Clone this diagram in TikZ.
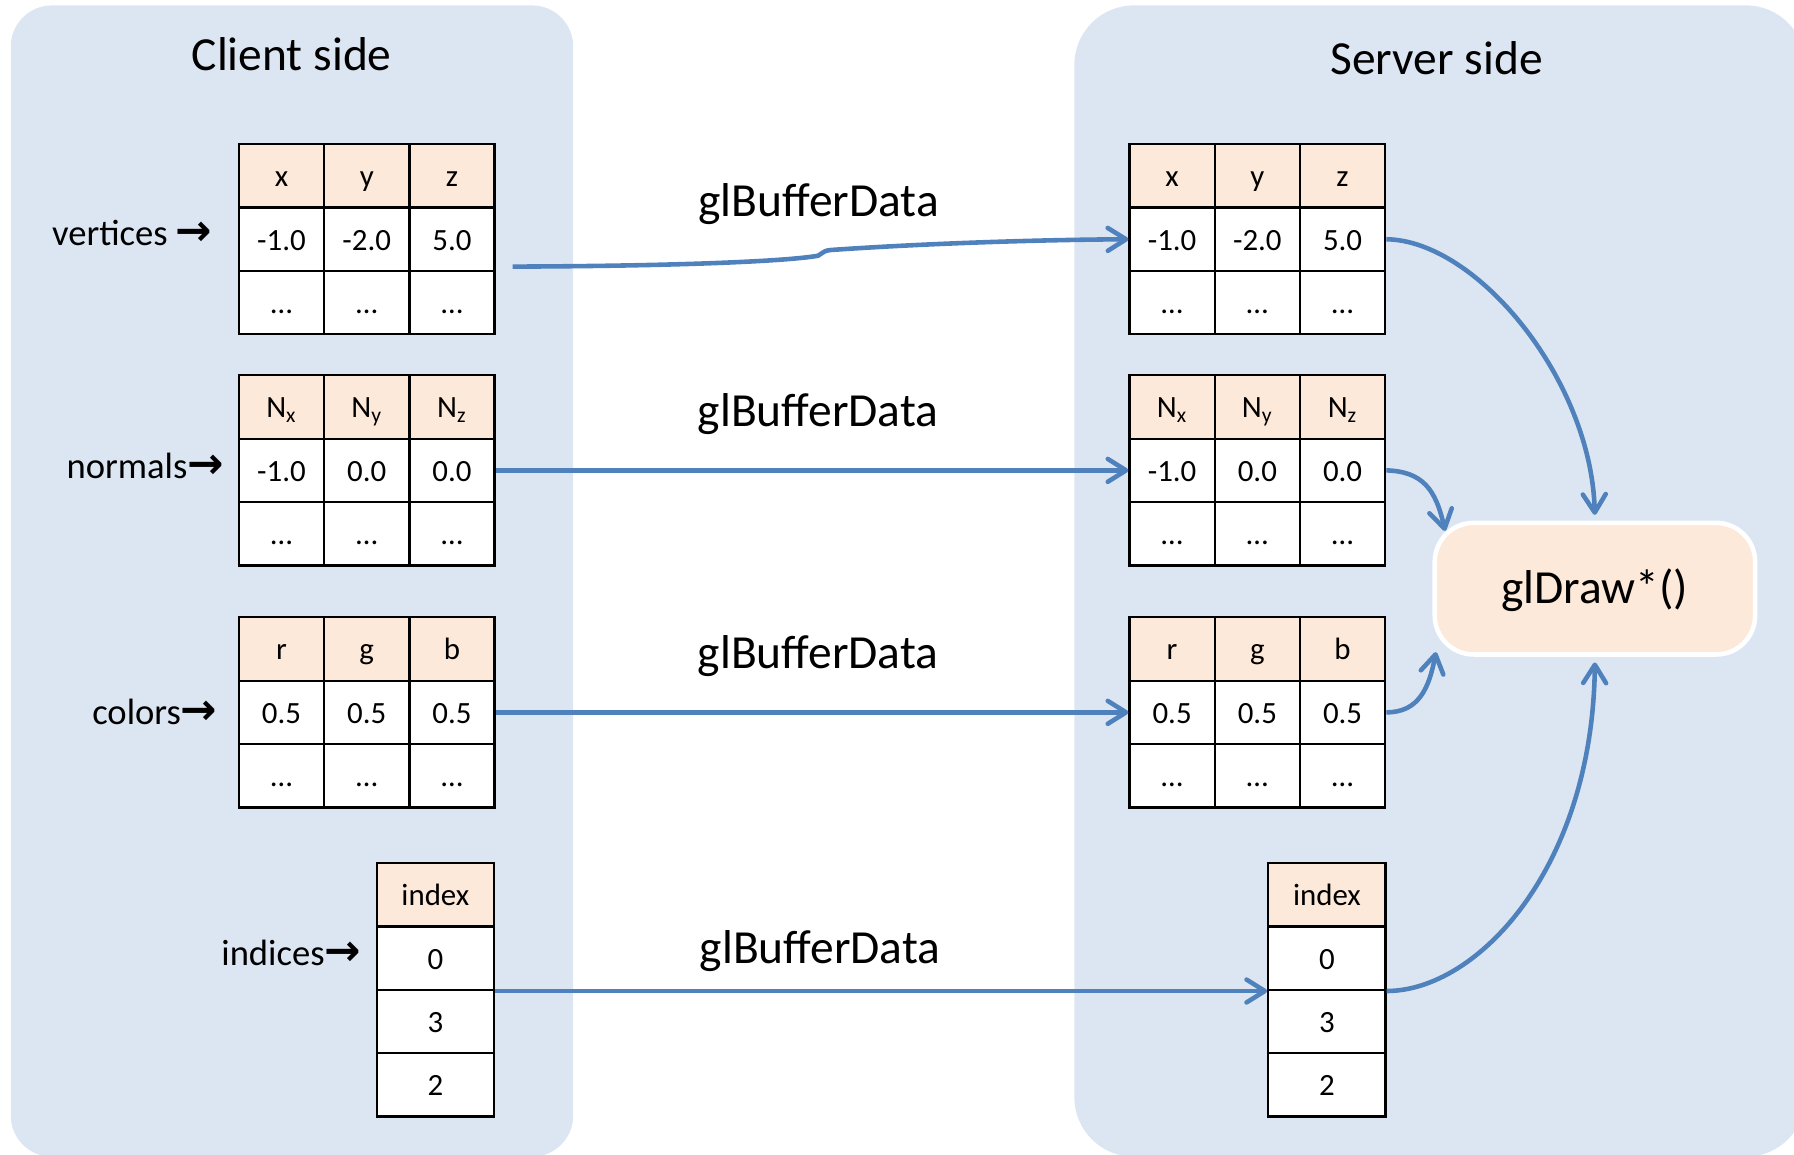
\documentclass[tikz,border=0pt]{standalone}
\usepackage{fontspec}
\setmainfont{Carlito}
\newfontfamily\arrowfont{DejaVu Sans}
\usetikzlibrary{arrows.meta,calc}
\definecolor{panelblue}{HTML}{DCE6F2}
\definecolor{peach}{HTML}{FDE9D9}
\definecolor{flowblue}{HTML}{4F81BD}
% heavier right arrow taken from DejaVu Sans
\newcommand\rarr{{\arrowfont\bfseries\fontsize{19}{19}\selectfont →}}
% three-column buffer table: name, left x, top y, header row, value row, last row
\newcommand\tabthree[6]{%
  \foreach \val [count=\col] in {#4}
    {\node[headcell] (#1-0-\col) at ({#2+(\col-0.5)*74.5},{#3+27.7}) {\val};}
  \foreach \val [count=\col] in {#5}
    {\node[bodycell] (#1-1-\col) at ({#2+(\col-0.5)*74.5},{#3+83.1}) {\val};}
  \foreach \val [count=\col] in {#6}
    {\node[bodycell] (#1-2-\col) at ({#2+(\col-0.5)*74.5},{#3+138.5}) {\val};}
}
\begin{document}
\begin{tikzpicture}[x=0.5pt,y=-0.5pt,
  cellbox/.style={draw=black, line width=1pt, minimum width=37.25pt,
    minimum height=27.7pt, inner sep=0pt, text height=9.5pt, text depth=0pt,
    font=\fontsize{13.5}{16}\selectfont},
  headcell/.style={cellbox, fill=peach},
  bodycell/.style={cellbox, fill=white},
  idxcell/.style={minimum width=51.25pt},
  sidetitle/.style={font=\fontsize{20.75}{24}\selectfont, anchor=base, inner sep=0pt},
  callname/.style={font=\fontsize{20.75}{24}\selectfont, anchor=base, inner sep=0pt},
  arrayname/.style={font=\fontsize{16}{19}\selectfont, anchor=base east, inner sep=0pt},
  flow/.style={draw=flowblue, line width=2pt,
    -{Straight Barb[length=8pt,width=10pt,round]}},
]
\clip (0,0) rectangle (1568,1009);

% client and server areas
\fill[panelblue, rounded corners=18pt] (9.4,4.7) rectangle (501,1011);
\fill[panelblue, rounded corners=26pt] (939,4.7) rectangle (1578,1011);

\node[sidetitle] (clientttl) at (255,62) {Client side};
\node[sidetitle] (serverttl) at (1255.7,64.7) {Server side};

% client arrays
\tabthree{cv}{208.8}{126}{x,y,z}{-1.0,-2.0,5.0}{…,…,…}
\tabthree{cn}{208.8}{328}{N\textsubscript{x},N\textsubscript{y},N\textsubscript{z}}{-1.0,0.0,0.0}{…,…,…}
\tabthree{cc}{208.8}{539.5}{r,g,b}{0.5,0.5,0.5}{…,…,…}
\node[headcell,idxcell] (ci-0) at (380.55,782.15) {index};
\node[bodycell,idxcell] (ci-1) at (380.55,837.45) {0};
\node[bodycell,idxcell] (ci-2) at (380.55,892.75) {3};
\node[bodycell,idxcell] (ci-3) at (380.55,948.05) {2};

% server buffers
\tabthree{sv}{987.2}{126}{x,y,z}{-1.0,-2.0,5.0}{…,…,…}
\tabthree{sn}{987.2}{328}{N\textsubscript{x},N\textsubscript{y},N\textsubscript{z}}{-1.0,0.0,0.0}{…,…,…}
\tabthree{sc}{987.2}{539.5}{r,g,b}{0.5,0.5,0.5}{…,…,…}
\node[headcell,idxcell] (si-0) at (1159.75,782.15) {index};
\node[bodycell,idxcell] (si-1) at (1159.75,837.45) {0};
\node[bodycell,idxcell] (si-2) at (1159.75,892.75) {3};
\node[bodycell,idxcell] (si-3) at (1159.75,948.05) {2};

% array names
\node[arrayname] (lblv) at (186,214.7) {vertices \rarr};
\node[arrayname] (lbln) at (196,418) {normals\rarr};
\node[arrayname] (lblc) at (190.4,632.8) {colors\rarr};
\node[arrayname] (lbli) at (316,843.5) {indices\rarr};

% upload calls
\node[callname] (gb1) at (715.5,189.4) {glBufferData};
\node[callname] (gb2) at (715,373) {glBufferData};
\node[callname] (gb3) at (715,584) {glBufferData};
\node[callname] (gb4) at (716.7,842) {glBufferData};

% draw call
\node[draw=white, line width=2pt, fill=peach, rounded corners=17pt,
  minimum width=140pt, minimum height=57.5pt, inner sep=0pt,
  text height=13pt, text depth=0pt, font=\fontsize{20.75}{24}\selectfont]
  (gldraw) at (1394,514.5) {glDraw*()};

% client to server transfers
\coordinate (vstart) at (448,233);
\draw[flow] (vstart) .. controls (600,232.5) and (690,228) .. (715,223.5)
  .. controls (719,222.8) and (717,219.5) .. (726,218.5)
  .. controls (820,212) and (920,209.5) .. (sv-1-1.west);
\draw[flow] (cn-1-3.east) -- (sn-1-1.west);
\draw[flow] (cc-1-3.east) -- (sc-1-1.west);
\draw[flow] (ci-1.south east) -- (si-1.south west);

% buffers feeding the draw call
\draw[flow, shorten >=2.5pt] (sv-1-3.east) .. controls +(79,1) and +(-3,-123) .. (gldraw.north);
\draw[flow] (sn-1-3.east) .. controls +(32,1) and +(-8,-36) .. ($(gldraw.north west)+(11,9)$);
\draw[flow] (sc-1-3.east) .. controls +(28,0) and +(-6,32) .. ($(gldraw.south west)+(3,-4)$);
\draw[flow, shorten >=2.5pt] (si-1.south east) .. controls +(79,0) and +(-2,185) .. (gldraw.south);
\end{tikzpicture}
\end{document}
